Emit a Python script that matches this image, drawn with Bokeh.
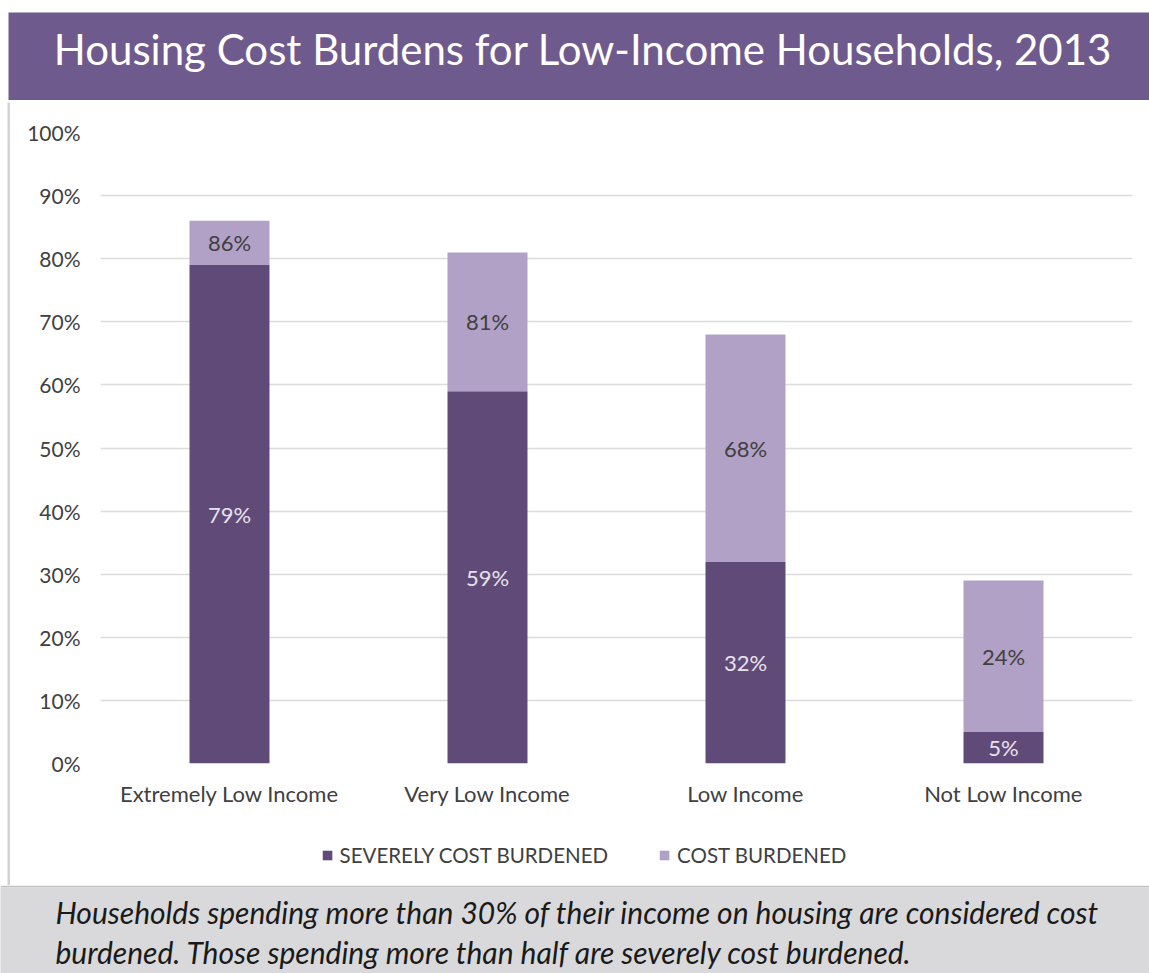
from bokeh.plotting import figure
from bokeh.layouts import column, row
from bokeh.models import (ColumnDataSource, FactorRange, Range1d, FixedTicker,
                          PrintfTickFormatter, LabelSet, Label, Legend, LegendItem)
from bokeh.embed import file_html
from bokeh.resources import INLINE
from bokeh.core.properties import value

# ---------------- data ----------------
categories = ["Extremely Low Income", "Very Low Income", "Low Income", "Not Low Income"]
severe = [79, 59, 32, 5]            # severely cost burdened (%)
cost_extra = [7, 22, 36, 24]        # additional cost burdened segment (%)
severe_labels = ["79%", "59%", "32%", "5%"]
cost_labels = ["86%", "81%", "68%", "24%"]
y_ticks = [0, 10, 20, 30, 40, 50, 60, 70, 80, 90, 100]
series_names = ["SEVERELY COST BURDENED", "COST BURDENED"]
title_text = "Housing Cost Burdens for Low-Income Households, 2013"
note_lines = [
    "Households spending more than 30% of their income on housing are considered cost",
    "burdened. Those spending more than half are severely cost burdened.",
]

# ---------------- style ----------------
W = 1149
DARK = "#604b78"
LIGHT = "#b1a1c7"
BANNER = "#6f5a8d"
FONT = "Lato"
TXT = "#404040"


def bare(width, height, bg, border, top=0, left=0, bottom=0):
    f = figure(width=width, height=height, x_range=Range1d(0, 1), y_range=Range1d(0, 1),
               x_axis_type=None, y_axis_type=None, toolbar_location=None,
               output_backend="svg", min_border_top=top, min_border_left=left,
               min_border_right=0, min_border_bottom=bottom)
    f.frame_align = False
    f.grid.visible = False
    f.background_fill_color = bg
    f.border_fill_color = border
    f.outline_line_color = None
    return f


# ---------------- banner ----------------
banner = bare(W, 100, BANNER, "white", top=12, left=8)
banner.add_layout(Label(x=0.5, y=0.5, text=title_text, text_align="center",
                        text_baseline="middle", text_color="white", text_font=FONT,
                        text_font_size="42px", x_offset=4, y_offset=8))
shadow = bare(W, 2, "#d0d0d0", "white", left=7)

# ---------------- main chart ----------------
src = ColumnDataSource(dict(
    cat=categories,
    severe=severe,
    cost=cost_extra,
    sev_mid=[s / 2 for s in severe],
    cost_mid=[s + c / 2 for s, c in zip(severe, cost_extra)],
    sev_lab=severe_labels,
    cost_lab=cost_labels,
))

MW = W - 10
p = figure(width=MW, height=728, x_range=FactorRange(*categories), y_range=Range1d(0, 100),
           toolbar_location=None, output_backend="svg",
           min_border_left=90, min_border_right=17, min_border_top=30, min_border_bottom=67)
p.frame_align = False
p.x_range.range_padding = 0
p.background_fill_color = "white"
p.border_fill_color = "white"
p.outline_line_color = None

rs = p.vbar_stack(["severe", "cost"], x="cat", width=0.31, color=[DARK, LIGHT],
                  line_color=None, source=src)

p.add_layout(LabelSet(x="cat", y="sev_mid", text="sev_lab", source=src,
                      text_align="center", text_baseline="middle",
                      text_color="#e8e2ee", text_font=value(FONT), text_font_size="22px"))
p.add_layout(LabelSet(x="cat", y="cost_mid", text="cost_lab", source=src,
                      text_align="center", text_baseline="middle",
                      text_color=TXT, text_font=value(FONT), text_font_size="22px"))

p.yaxis.ticker = FixedTicker(ticks=y_ticks)
p.yaxis.formatter = PrintfTickFormatter(format="%d%%")
for ax in (p.xaxis, p.yaxis):
    ax.axis_line_color = None
    ax.major_tick_line_color = None
    ax.minor_tick_line_color = None
    ax.major_tick_out = 0
    ax.major_tick_in = 0
    ax.major_label_text_font = FONT
    ax.major_label_text_color = TXT
p.yaxis.major_label_text_font_size = "21px"
p.xaxis.major_label_text_font_size = "22px"
p.yaxis.major_label_standoff = 20
p.xaxis.major_label_standoff = 16

p.ygrid.grid_line_color = "#dcdcdc"
p.ygrid.grid_line_width = 1.5
p.xgrid.grid_line_color = None

# ---------------- legend strip (proxy renderers hidden) ----------------
lf = figure(width=MW, height=55, x_range=p.x_range, y_range=Range1d(0, 100),
            x_axis_type=None, y_axis_type=None, toolbar_location=None,
            output_backend="svg", min_border_top=0, min_border_left=8,
            min_border_right=0, min_border_bottom=5)
lf.frame_align = False
lf.grid.visible = False
lf.background_fill_color = "white"
lf.border_fill_color = "white"
lf.outline_line_color = None
r_sev = lf.vbar(x="cat", top="severe", width=0.31, color=DARK, line_color=None, source=src)
r_cost = lf.vbar(x="cat", top="cost", width=0.31, color=LIGHT, line_color=None, source=src)
r_sev.visible = False
r_cost.visible = False
legend = Legend(items=[LegendItem(label=series_names[0], renderers=[r_sev]),
                       LegendItem(label=series_names[1], renderers=[r_cost])],
                orientation="horizontal", location="center",
                glyph_width=12, glyph_height=12, label_standoff=7, spacing=50,
                padding=0, margin=0, border_line_color=None,
                background_fill_alpha=0, label_text_font=FONT,
                label_text_font_size="20.5px", label_text_color=TXT,
                inactive_fill_alpha=0)
lf.add_layout(legend)

# ---------------- left frame line ----------------
strip = bare(10, 783, "#d3d3d3", "white", left=7)

# ---------------- footer ----------------
footer = bare(W, 88, "#d9d9db", "#c2c2c2", top=2)
footer.y_range = Range1d(0, 86)
for yv, line in zip([62, 22], note_lines):
    footer.add_layout(Label(x=0, y=yv, x_offset=55, text=line, text_font=FONT,
                            text_font_style="italic", text_font_size="30px",
                            text_baseline="middle", text_color="#1a1a1a"))

layout = column(banner, shadow, row(strip, column(p, lf, spacing=0), spacing=0),
                footer, spacing=0)
open("out.html", "w").write(file_html(layout, INLINE))
